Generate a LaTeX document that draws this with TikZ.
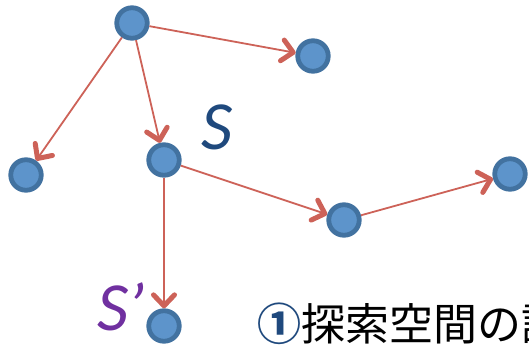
\documentclass[tikz,border=0pt]{standalone}
\usepackage{fontspec}
\setmainfont{Carlito}
\newfontfamily\cjk{Noto Sans CJK JP}
\usetikzlibrary{arrows.meta}
\definecolor{nodefill}{RGB}{93,148,203}
\definecolor{nodeedge}{RGB}{66,114,160}
\definecolor{edgecol}{RGB}{205,98,88}
\definecolor{scol}{RGB}{31,73,125}
\definecolor{spcol}{RGB}{112,48,160}
\tikzset{
  vtx/.style={circle, fill=nodefill, draw=nodeedge, line width=4.8pt, minimum size=30.5pt, inner sep=0pt},
  link/.style={draw=edgecol, line width=1.8pt, -{Straight Barb[length=11pt,width=21pt,line width=5pt,round]}},
  biglabel/.style={font=\fontsize{69}{69}\selectfont\itshape, inner sep=0pt, text depth=0pt, anchor=base},
}
\begin{document}
\begin{tikzpicture}[x=1pt,y=-1pt]
\useasboundingbox (0,0) rectangle (529,347);
\node[vtx] (a) at (132,23) {};
\node[vtx] (b) at (313,56) {};
\node[vtx] (c) at (26,175) {};
\node[vtx] (s) at (164,160) {};
\node[vtx] (d) at (344,220) {};
\node[vtx] (e) at (510,174) {};
\node[vtx] (sp) at (164,326) {};
\draw[link] (a) -- (b);
\draw[link] (a) -- (c);
\draw[link] (a) -- (s);
\draw[link] (s) -- (d);
\draw[link] (d) -- (e);
\draw[link] (s) -- (sp);
\node[biglabel, text=scol] (slab) at (217,150) {S};
\node[biglabel, text=spcol] (splab) at (121,330) {S’};
\node[anchor=base west, inner sep=0pt, font=\fontsize{44}{44}\selectfont\cjk] (title) at (257,340) {{\color{scol}\bfseries ①}探索空間の設計};
\end{tikzpicture}
\end{document}
